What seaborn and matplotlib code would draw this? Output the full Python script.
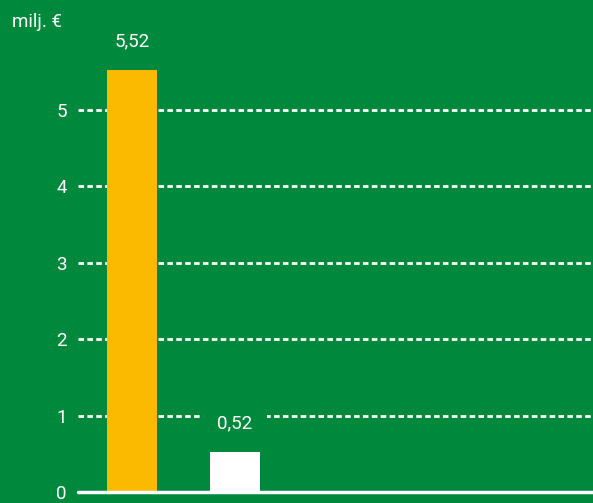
import matplotlib.pyplot as plt
import pandas as pd
import seaborn as sns

# data
categories = ["A", "B"]
values = [5.52, 0.52]
value_labels = ["5,52", "0,52"]
bar_colors = ["#fbb900", "#ffffff"]
yticks = [0, 1, 2, 3, 4, 5]

GREEN = "#00893d"

sns.set_theme(style="white")
plt.rcParams["font.family"] = ["Roboto", "DejaVu Sans"]

df = pd.DataFrame({"cat": categories, "value": values})

fig = plt.figure(figsize=(5.93, 5.03), dpi=100, facecolor=GREEN)
ax = fig.add_axes([78 / 593, 11 / 503, 1 - 78 / 593, 492 / 503])
ax.set_facecolor(GREEN)

sns.barplot(data=df, x="cat", y="value", hue="cat", palette=bar_colors,
            width=0.485, saturation=1, legend=False, ax=ax, zorder=3, linewidth=0)

ax.set_xlim(-0.524, 4.48)
ax.set_ylim(0, 6.44)

# dotted grid
for t in yticks[1:]:
    ax.axhline(t, color="white", lw=2, linestyle=(0, (2, 1.2)), zorder=1)
ax.axhline(0, color="white", lw=2.5, zorder=4, clip_on=False)

for i, (v, lab) in enumerate(zip(values, value_labels)):
    ax.text(i, v + 0.38, lab, ha="center", va="center", color="white", fontsize=13.5,
            zorder=5, bbox=dict(boxstyle="square,pad=0.8", fc=GREEN, ec="none"))

ax.set_yticks(yticks)
ax.set_yticklabels([str(t) for t in yticks])
ax.set_xticks([])
ax.tick_params(axis="y", colors="white", labelsize=13.5, length=0, pad=8)
ax.set_xlabel("")
ax.set_ylabel("")
sns.despine(ax=ax, left=True, bottom=True)

fig.text(12 / 593, 1 - 22 / 503, "milj. €", color="white", fontsize=13.5, va="center", ha="left")

fig.savefig("out.png", dpi=100, facecolor=GREEN)
